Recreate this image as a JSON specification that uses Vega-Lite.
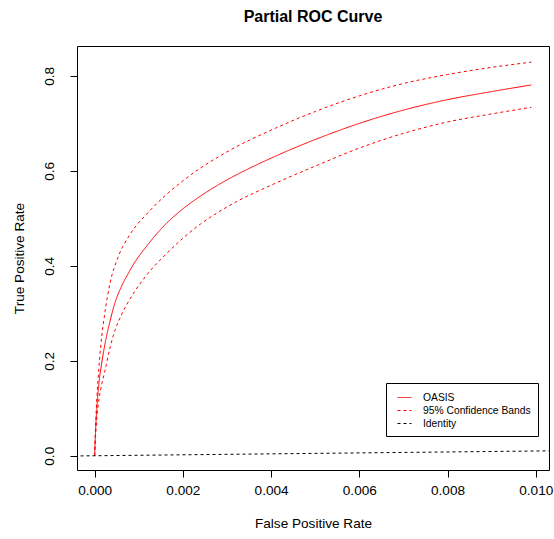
{
  "$schema": "https://vega.github.io/schema/vega-lite/v6.json",
  "width": 472,
  "height": 424,
  "autosize": {"type": "none"},
  "padding": {"left": 77, "top": 46, "right": 5, "bottom": 69},
  "background": "white",
  "title": {
    "text": "Partial ROC Curve",
    "font": "Liberation Sans",
    "fontSize": 16,
    "fontWeight": "bold",
    "color": "black",
    "anchor": "middle",
    "offset": 21
  },
  "config": {
    "view": {"stroke": "black", "strokeWidth": 1},
    "axis": {
      "domain": false,
      "grid": false,
      "tickColor": "black",
      "tickSize": 7,
      "labelFont": "Liberation Sans",
      "labelFontSize": 13.6,
      "labelColor": "black",
      "titleFont": "Liberation Sans",
      "titleFontSize": 13.6,
      "titleFontWeight": "normal",
      "titleColor": "black"
    },
    "legend": {
      "labelFont": "Liberation Sans",
      "labelFontSize": 10.3,
      "labelColor": "black"
    }
  },
  "data": {
    "values": [
      {"series": "OASIS", "curve": "oasis", "fpr": 0, "tpr": 0},
      {"series": "OASIS", "curve": "oasis", "fpr": 0.00002, "tpr": 0.05},
      {"series": "OASIS", "curve": "oasis", "fpr": 0.00005, "tpr": 0.10},
      {"series": "OASIS", "curve": "oasis", "fpr": 0.0001, "tpr": 0.155},
      {"series": "OASIS", "curve": "oasis", "fpr": 0.00016, "tpr": 0.195},
      {"series": "OASIS", "curve": "oasis", "fpr": 0.00025, "tpr": 0.243},
      {"series": "OASIS", "curve": "oasis", "fpr": 0.00035, "tpr": 0.284},
      {"series": "OASIS", "curve": "oasis", "fpr": 0.00046, "tpr": 0.322},
      {"series": "OASIS", "curve": "oasis", "fpr": 0.0006, "tpr": 0.355},
      {"series": "OASIS", "curve": "oasis", "fpr": 0.00075, "tpr": 0.382},
      {"series": "OASIS", "curve": "oasis", "fpr": 0.0009, "tpr": 0.406},
      {"series": "OASIS", "curve": "oasis", "fpr": 0.0012, "tpr": 0.444},
      {"series": "OASIS", "curve": "oasis", "fpr": 0.0016, "tpr": 0.487},
      {"series": "OASIS", "curve": "oasis", "fpr": 0.002, "tpr": 0.52},
      {"series": "OASIS", "curve": "oasis", "fpr": 0.0024, "tpr": 0.547},
      {"series": "OASIS", "curve": "oasis", "fpr": 0.003, "tpr": 0.581},
      {"series": "OASIS", "curve": "oasis", "fpr": 0.0035, "tpr": 0.605},
      {"series": "OASIS", "curve": "oasis", "fpr": 0.0041, "tpr": 0.631},
      {"series": "OASIS", "curve": "oasis", "fpr": 0.005, "tpr": 0.666},
      {"series": "OASIS", "curve": "oasis", "fpr": 0.006, "tpr": 0.70},
      {"series": "OASIS", "curve": "oasis", "fpr": 0.007, "tpr": 0.728},
      {"series": "OASIS", "curve": "oasis", "fpr": 0.008, "tpr": 0.75},
      {"series": "OASIS", "curve": "oasis", "fpr": 0.009, "tpr": 0.767},
      {"series": "OASIS", "curve": "oasis", "fpr": 0.0099, "tpr": 0.781},

      {"series": "95% Confidence Bands", "curve": "upper", "fpr": 0, "tpr": 0},
      {"series": "95% Confidence Bands", "curve": "upper", "fpr": 0.00002, "tpr": 0.06},
      {"series": "95% Confidence Bands", "curve": "upper", "fpr": 0.00005, "tpr": 0.12},
      {"series": "95% Confidence Bands", "curve": "upper", "fpr": 0.0001, "tpr": 0.19},
      {"series": "95% Confidence Bands", "curve": "upper", "fpr": 0.00016, "tpr": 0.25},
      {"series": "95% Confidence Bands", "curve": "upper", "fpr": 0.00023, "tpr": 0.30},
      {"series": "95% Confidence Bands", "curve": "upper", "fpr": 0.00035, "tpr": 0.364},
      {"series": "95% Confidence Bands", "curve": "upper", "fpr": 0.00053, "tpr": 0.418},
      {"series": "95% Confidence Bands", "curve": "upper", "fpr": 0.0008, "tpr": 0.466},
      {"series": "95% Confidence Bands", "curve": "upper", "fpr": 0.0012, "tpr": 0.511},
      {"series": "95% Confidence Bands", "curve": "upper", "fpr": 0.0016, "tpr": 0.548},
      {"series": "95% Confidence Bands", "curve": "upper", "fpr": 0.002, "tpr": 0.579},
      {"series": "95% Confidence Bands", "curve": "upper", "fpr": 0.0024, "tpr": 0.606},
      {"series": "95% Confidence Bands", "curve": "upper", "fpr": 0.003, "tpr": 0.64},
      {"series": "95% Confidence Bands", "curve": "upper", "fpr": 0.0041, "tpr": 0.69},
      {"series": "95% Confidence Bands", "curve": "upper", "fpr": 0.005, "tpr": 0.725},
      {"series": "95% Confidence Bands", "curve": "upper", "fpr": 0.006, "tpr": 0.758},
      {"series": "95% Confidence Bands", "curve": "upper", "fpr": 0.007, "tpr": 0.784},
      {"series": "95% Confidence Bands", "curve": "upper", "fpr": 0.008, "tpr": 0.803},
      {"series": "95% Confidence Bands", "curve": "upper", "fpr": 0.009, "tpr": 0.818},
      {"series": "95% Confidence Bands", "curve": "upper", "fpr": 0.0099, "tpr": 0.829},

      {"series": "95% Confidence Bands", "curve": "lower", "fpr": 0, "tpr": 0},
      {"series": "95% Confidence Bands", "curve": "lower", "fpr": 0.00002, "tpr": 0.04},
      {"series": "95% Confidence Bands", "curve": "lower", "fpr": 0.00005, "tpr": 0.08},
      {"series": "95% Confidence Bands", "curve": "lower", "fpr": 0.0001, "tpr": 0.12},
      {"series": "95% Confidence Bands", "curve": "lower", "fpr": 0.00016, "tpr": 0.15},
      {"series": "95% Confidence Bands", "curve": "lower", "fpr": 0.00023, "tpr": 0.178},
      {"series": "95% Confidence Bands", "curve": "lower", "fpr": 0.00035, "tpr": 0.228},
      {"series": "95% Confidence Bands", "curve": "lower", "fpr": 0.00046, "tpr": 0.264},
      {"series": "95% Confidence Bands", "curve": "lower", "fpr": 0.0006, "tpr": 0.295},
      {"series": "95% Confidence Bands", "curve": "lower", "fpr": 0.0009, "tpr": 0.345},
      {"series": "95% Confidence Bands", "curve": "lower", "fpr": 0.0012, "tpr": 0.383},
      {"series": "95% Confidence Bands", "curve": "lower", "fpr": 0.0016, "tpr": 0.423},
      {"series": "95% Confidence Bands", "curve": "lower", "fpr": 0.002, "tpr": 0.458},
      {"series": "95% Confidence Bands", "curve": "lower", "fpr": 0.0024, "tpr": 0.488},
      {"series": "95% Confidence Bands", "curve": "lower", "fpr": 0.003, "tpr": 0.524},
      {"series": "95% Confidence Bands", "curve": "lower", "fpr": 0.0041, "tpr": 0.574},
      {"series": "95% Confidence Bands", "curve": "lower", "fpr": 0.005, "tpr": 0.61},
      {"series": "95% Confidence Bands", "curve": "lower", "fpr": 0.006, "tpr": 0.648},
      {"series": "95% Confidence Bands", "curve": "lower", "fpr": 0.007, "tpr": 0.679},
      {"series": "95% Confidence Bands", "curve": "lower", "fpr": 0.008, "tpr": 0.703},
      {"series": "95% Confidence Bands", "curve": "lower", "fpr": 0.009, "tpr": 0.72},
      {"series": "95% Confidence Bands", "curve": "lower", "fpr": 0.0099, "tpr": 0.734},

      {"series": "Identity", "curve": "identity", "fpr": -0.001, "tpr": -0.001},
      {"series": "Identity", "curve": "identity", "fpr": 0.011, "tpr": 0.011}
    ]
  },
  "mark": {"type": "line", "strokeWidth": 1, "clip": true, "interpolate": "monotone"},
  "encoding": {
    "x": {
      "field": "fpr",
      "type": "quantitative",
      "title": "False Positive Rate",
      "scale": {"domain": [-0.0004, 0.0103], "nice": false, "zero": false},
      "axis": {
        "values": [0, 0.002, 0.004, 0.006, 0.008, 0.01],
        "format": ".3f",
        "labelPadding": 6,
        "titlePadding": 20
      }
    },
    "y": {
      "field": "tpr",
      "type": "quantitative",
      "title": "True Positive Rate",
      "scale": {"domain": [-0.03, 0.863], "nice": false, "zero": false},
      "axis": {
        "values": [0, 0.2, 0.4, 0.6, 0.8],
        "format": ".1f",
        "labelAngle": -90,
        "labelPadding": 14,
        "titlePadding": 16
      }
    },
    "detail": {"field": "curve"},
    "color": {
      "field": "series",
      "type": "nominal",
      "title": null,
      "scale": {
        "domain": ["OASIS", "95% Confidence Bands", "Identity"],
        "range": ["#ff0000", "#ff0000", "#000000"]
      },
      "legend": {
        "orient": "none",
        "legendX": 309,
        "legendY": 337,
        "symbolType": "stroke",
        "symbolSize": 196,
        "symbolStrokeWidth": 1,
        "symbolOffset": 4,
        "labelOffset": 11,
        "rowPadding": -1,
        "padding": 7,
        "strokeColor": "black",
        "fillColor": "white"
      }
    },
    "strokeDash": {
      "field": "series",
      "type": "nominal",
      "title": null,
      "scale": {
        "domain": ["OASIS", "95% Confidence Bands", "Identity"],
        "range": [[1, 0], [3, 3], [3, 3]]
      }
    }
  }
}
